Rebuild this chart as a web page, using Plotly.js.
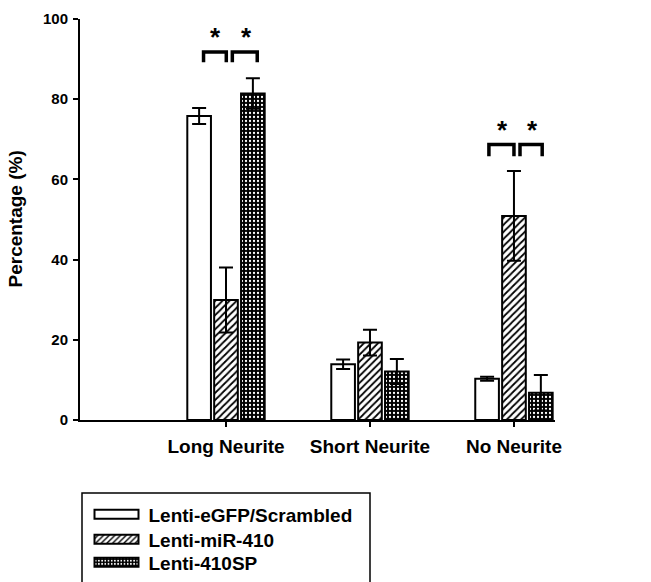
<!DOCTYPE html>
<html>
<head>
<meta charset="utf-8">
<script src="https://cdn.plot.ly/plotly-3.0.1.min.js"></script>
<style>html,body{margin:0;padding:0;background:#fff;}</style>
</head>
<body>
<div id="chart" style="width:651px;height:582px;"></div>
<script>
// ---- data ----
const categories = ["Long Neurite", "Short Neurite", "No Neurite"];
const seriesNames = ["Lenti-eGFP/Scrambled", "Lenti-miR-410", "Lenti-410SP"];
const eGFPValues = [75.8, 13.9, 10.3];
const eGFPErrors = [2.0, 1.2, 0.5];
const miR410Values = [29.9, 19.3, 50.9];
const miR410Errors = [8.1, 3.2, 11.2];
const sp410Values = [81.4, 12.1, 6.8];
const sp410Errors = [3.8, 3.1, 4.4];
const yTickVals = [0, 20, 40, 60, 80, 100];
const yAxisTitle = "Percentage (%)";
// significance brackets: [x0, x1, yTop, yBottom] in category units / percent
const bracketSpans = [
  [-0.156, 0.002, 91.8, 89.2],
  [0.044, 0.217, 91.8, 89.2],
  [1.826, 2.000, 68.7, 65.8],
  [2.042, 2.196, 68.7, 65.8]
];
const starX = [-0.076, 0.144, 1.917, 2.132];
const starY = [95.6, 95.6, 72.3, 72.3];

const FONT = "Liberation Sans, Arial, Helvetica, sans-serif";
const catIdx = categories.map((c, i) => i);
const legendIds = ["legend", "legend2", "legend3"];

function barTrace(k, vals, errs, pattern) {
  return {
    type: "bar", name: seriesNames[k], x: catIdx, y: vals, legend: legendIds[k],
    marker: {color: "white", line: {color: "black", width: 2}, pattern: pattern},
    error_y: {type: "data", array: errs, visible: true, color: "black", thickness: 2, width: 7}
  };
}

const traces = [
  barTrace(0, eGFPValues, eGFPErrors, {shape: ""}),
  barTrace(1, miR410Values, miR410Errors, {shape: "/", fgcolor: "black", bgcolor: "white", size: 5, solidity: 0.35}),
  barTrace(2, sp410Values, sp410Errors, {shape: ".", fgcolor: "white", bgcolor: "black", size: 4, solidity: 0.25})
];

const shapes = bracketSpans.map(b => ({
  type: "path", xref: "x", yref: "y",
  path: `M ${b[0]},${b[3]} L ${b[0]},${b[2]} L ${b[1]},${b[2]} L ${b[1]},${b[3]}`,
  line: {color: "black", width: 3.5}
}));
// legend frame (extends beyond bottom edge as in reference)
shapes.push({type: "rect", xref: "paper", yref: "paper",
  x0: 2/475, x1: 290/475, y0: (420-493)/401, y1: (420-620)/401,
  line: {color: "black", width: 1.5}, fillcolor: "rgba(0,0,0,0)"});

const annotations = starX.map((x, i) => ({
  x: x, y: starY[i], xref: "x", yref: "y", text: "*", showarrow: false,
  font: {family: FONT, size: 26, color: "black", weight: "bold"}, yanchor: "middle"
}));
annotations.push({
  text: yAxisTitle, xref: "paper", yref: "paper", x: (15-80)/475, y: 0.5,
  xanchor: "center", yanchor: "middle", textangle: -90, showarrow: false,
  font: {family: FONT, size: 19, color: "black", weight: "bold"}
});

const legendTops = [495.5, 520.5, 543.5];
function legendCfg(i) {
  return {xref: "container", yref: "container", x: 84.5/651, y: 1 - legendTops[i]/582,
    xanchor: "left", yanchor: "top", itemwidth: 54, bgcolor: "rgba(0,0,0,0)",
    font: {family: FONT, size: 19, color: "black", weight: "bold"}};
}

const layout = {
  width: 651, height: 582,
  margin: {l: 80, r: 96, t: 19, b: 162, autoexpand: false},
  paper_bgcolor: "white", plot_bgcolor: "white",
  font: {family: FONT, color: "black", weight: "bold"},
  barmode: "group", bargap: 0.44, bargroupgap: 0.12,
  showlegend: true,
  legend: legendCfg(0), legend2: legendCfg(1), legend3: legendCfg(2),
  xaxis: {
    range: [-1.014, 2.285], tickvals: catIdx, ticktext: categories,
    showline: true, linecolor: "black", linewidth: 2, ticks: "outside", ticklen: 5,
    tickwidth: 2, tickcolor: "black", showgrid: false, zeroline: false, ticklabelstandoff: 3,
    tickfont: {family: FONT, size: 19, color: "black", weight: "bold"}
  },
  yaxis: {
    range: [0, 100], tickvals: yTickVals, showline: true, linecolor: "black", linewidth: 2,
    ticks: "outside", ticklen: 5, tickwidth: 2, tickcolor: "black", showgrid: false, zeroline: false,
    ticklabelstandoff: 2,
    tickfont: {family: FONT, size: 15, color: "black", weight: "bold"}
  },
  shapes: shapes, annotations: annotations
};

Plotly.newPlot("chart", traces, layout, {displayModeBar: false, staticPlot: true}).then(gd => {
  gd.querySelectorAll("g.legendpoints path").forEach(p => {
    p.setAttribute("d", "M22,4.5H-22V-4.5H22Z");
  });
});
</script>
</body>
</html>
